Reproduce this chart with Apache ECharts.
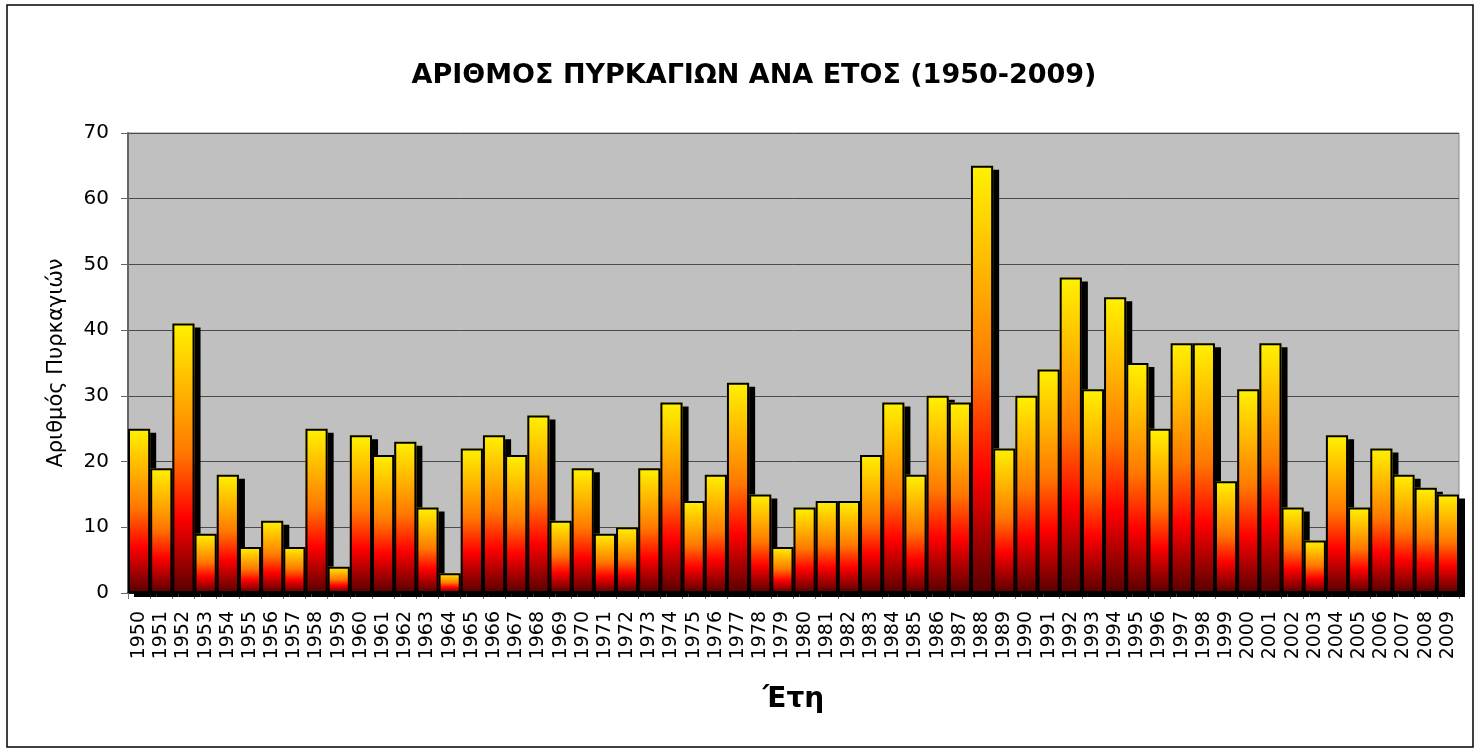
<!DOCTYPE html>
<html>
<head>
<meta charset="utf-8">
<title>ΑΡΙΘΜΟΣ ΠΥΡΚΑΓΙΩΝ ΑΝΑ ΕΤΟΣ</title>
<script src="https://cdn.jsdelivr.net/npm/echarts@6/dist/echarts.min.js"></script>
<style>
  html, body { margin: 0; padding: 0; background: #fff; }
  #chart { width: 1478px; height: 749px; }
</style>
</head>
<body>
<div id="chart"></div>
<script>
// έτη 1950-2009
var years = ['1950','1951','1952','1953','1954','1955','1956','1957','1958','1959',
             '1960','1961','1962','1963','1964','1965','1966','1967','1968','1969',
             '1970','1971','1972','1973','1974','1975','1976','1977','1978','1979',
             '1980','1981','1982','1983','1984','1985','1986','1987','1988','1989',
             '1990','1991','1992','1993','1994','1995','1996','1997','1998','1999',
             '2000','2001','2002','2003','2004','2005','2006','2007','2008','2009'];

// αριθμός πυρκαγιών ανά έτος
var fires = [25, 19, 41, 9, 18, 7, 11, 7, 25, 4,
             24, 21, 23, 13, 3, 22, 24, 21, 27, 11,
             19, 9, 10, 19, 29, 14, 18, 32, 15, 7,
             13, 14, 14, 21, 29, 18, 30, 29, 65, 22,
             30, 34, 48, 31, 45, 35, 25, 38, 38, 17,
             31, 38, 13, 8, 24, 13, 22, 18, 16, 15];

var yTicks = [0, 10, 20, 30, 40, 50, 60, 70];

var FONT = 'DejaVu Sans, Verdana, sans-serif';

var chart = echarts.init(document.getElementById('chart'));

var fireGradient = new echarts.graphic.LinearGradient(0, 0, 0, 1, [
  { offset: 0, color: '#FFF200' },
  { offset: 0.25, color: '#FFB400' },
  { offset: 0.48, color: '#FF7800' },
  { offset: 0.72, color: '#FF0000' },
  { offset: 1, color: '#580000' }
]);

chart.setOption({
  backgroundColor: '#fff',
  animation: false,
  title: {
    text: 'ΑΡΙΘΜΟΣ ΠΥΡΚΑΓΙΩΝ ΑΝΑ ΕΤΟΣ (1950-2009)',
    left: 749,
    textAlign: 'center',
    top: 57,
    textStyle: {
      fontFamily: FONT,
      fontSize: 27,
      fontWeight: 'bold',
      color: '#000'
    }
  },
  //εξωτερικό πλαίσιο
  graphic: [{
    type: 'rect',
    z: -10,
    silent: true,
    shape: { x: 7, y: 5, width: 1466, height: 742 },
    style: { fill: 'none', stroke: '#000', lineWidth: 1.5 }
  }],
  grid: {
    left: 128,
    right: 19,
    top: 133,
    bottom: 156,
    show: true,
    backgroundColor: '#C0C0C0',
    borderColor: '#8a8a8a',
    borderWidth: 1
  },
  xAxis: {
    type: 'category',
    data: years,
    name: 'Έτη',
    nameLocation: 'middle',
    nameGap: 93,
    nameTextStyle: {
      fontFamily: FONT,
      fontSize: 28,
      fontWeight: 'bold',
      color: '#000'
    },
    axisLine: { lineStyle: { color: '#000', width: 1.5 } },
    axisTick: { show: true, length: 6, alignWithLabel: false, lineStyle: { color: '#777' } },
    axisLabel: {
      rotate: 90,
      interval: 0,
      margin: 18,
      fontFamily: FONT,
      fontSize: 19,
      color: '#000'
    }
  },
  yAxis: {
    type: 'value',
    min: yTicks[0],
    max: yTicks[yTicks.length - 1],
    interval: 10,
    name: 'Αριθμός Πυρκαγιών',
    nameLocation: 'middle',
    nameGap: 61,
    nameTextStyle: {
      fontFamily: FONT,
      fontSize: 21,
      color: '#000'
    },
    axisLine: { show: true, lineStyle: { color: '#666', width: 2 } },
    axisTick: { show: true, length: 7, lineStyle: { color: '#666' } },
    axisLabel: {
      margin: 19,
      fontFamily: FONT,
      fontSize: 20,
      color: '#000'
    },
    splitLine: { show: true, lineStyle: { color: '#4a4a4a', width: 1 } }
  },
  series: [{
    //γέμισμα με σκιά
    type: 'bar',
    data: fires,
    barCategoryGap: '0%',
    barGap: '-100%',
    itemStyle: {
      color: fireGradient,
      borderWidth: 0,
      shadowColor: '#000',
      shadowBlur: 0,
      shadowOffsetX: 6,
      shadowOffsetY: 4
    }
  }, {
    //περίγραμμα
    type: 'bar',
    data: fires,
    barCategoryGap: '0%',
    barGap: '-100%',
    silent: true,
    itemStyle: {
      color: 'rgba(0,0,0,0)',
      borderColor: '#000',
      borderWidth: 2
    }
  }]
});
</script>
</body>
</html>
